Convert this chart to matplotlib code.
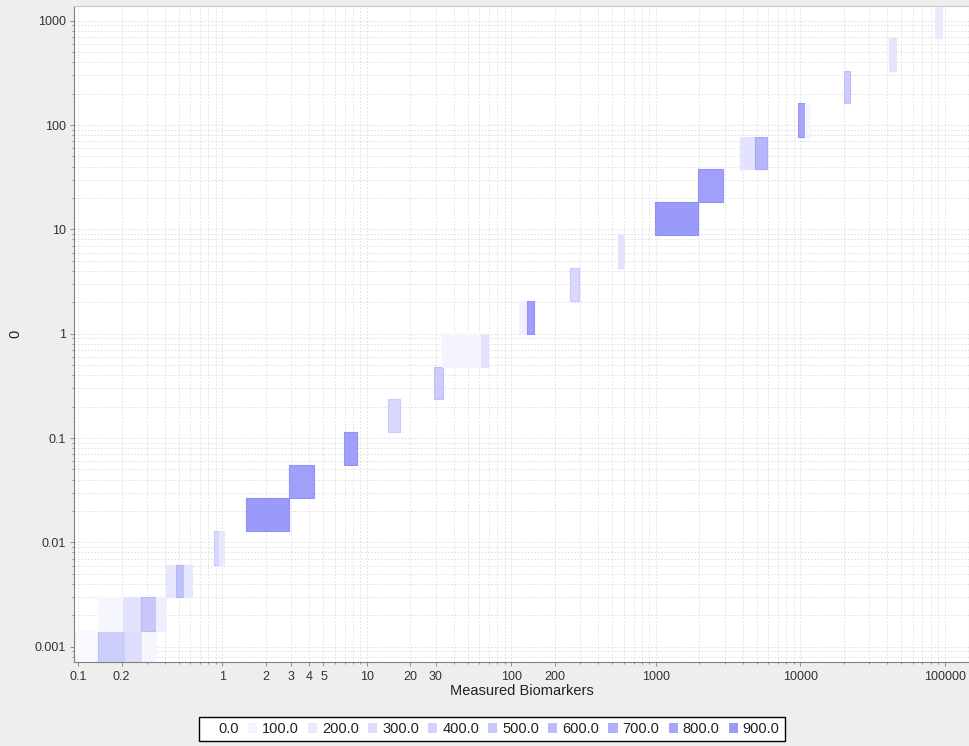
import numpy as np
import matplotlib
matplotlib.use("Agg")
import matplotlib.pyplot as plt
from matplotlib.patches import Patch

plt.rcParams['font.family'] = ['Liberation Sans', 'DejaVu Sans']

# row edges on the y axis (each row roughly doubles)
row_edges = [0.00071, 0.00142, 0.0030, 0.0061, 0.0129, 0.0268, 0.0556, 0.115,
             0.239, 0.484, 1.0, 2.08, 4.3, 8.9, 18.5, 38.3, 77.6, 164, 333,
             690, 1430]

# blocks: row index, x start, x end, value
block_row = [0, 0, 0, 0,
             1, 1, 1, 1,
             2, 2, 2,
             3, 3,
             4, 5, 6, 7, 8,
             9, 9,
             10, 10,
             11, 12, 13, 14,
             15, 15,
             16, 16,
             17, 18, 19]
block_x0 = [0.09, 0.137, 0.207, 0.276,
            0.137, 0.204, 0.272, 0.345,
            0.405, 0.475, 0.542,
            0.875, 0.943,
            1.466, 2.864, 6.92, 13.95, 29.2,
            33.0, 61.5,
            113, 128,
            254, 543, 986, 1948,
            3842, 4853,
            9594, 10777,
            20170, 41330, 85700]
block_x1 = [0.137, 0.207, 0.276, 0.345,
            0.204, 0.272, 0.345, 0.405,
            0.475, 0.542, 0.611,
            0.943, 1.026,
            2.864, 4.27, 8.51, 16.9, 33.7,
            61.5, 69.1,
            128, 144,
            293, 598, 1948, 2917,
            4853, 5848,
            10777, 11670,
            22090, 45990, 95300]
block_value = [60, 450, 300, 80,
               80, 250, 500, 150,
               220, 550, 220,
               350, 200,
               900, 850, 850, 350, 450,
               100, 250,
               120, 850,
               350, 250, 900, 850,
               250, 650,
               800, 80,
               450, 250, 180]

legend_values = [0.0, 100.0, 200.0, 300.0, 400.0, 500.0, 600.0, 700.0, 800.0, 900.0]

x_major = [0.1, 0.2, 1, 2, 3, 4, 5, 10, 20, 30, 100, 200, 1000, 10000, 100000]
x_major_labels = ['0.1', '0.2', '1', '2', '3', '4', '5', '10', '20', '30',
                  '100', '200', '1000', '10000', '100000']
y_major = [0.001, 0.01, 0.1, 1, 10, 100, 1000]
y_major_labels = ['0.001', '0.01', '0.1', '1', '10', '100', '1000']


def paint(v):
    """White-to-blue lookup paint scale"""
    a = 0.44 * min(v, 1000) / 1000.0
    c = 1 - a
    return (c, c, 1 - 0.025 * v / 1000.0)


fig = plt.figure(figsize=(9.69, 7.46), dpi=100)
fig.patch.set_facecolor('#eeeeee')
ax = fig.add_axes([74 / 969, 1 - 661.7 / 746, 895 / 969, 655.7 / 746])
ax.set_facecolor('white')
ax.set_xscale('log')
ax.set_yscale('log')

bottoms = [row_edges[r] for r in block_row]
heights = [row_edges[r + 1] - row_edges[r] for r in block_row]
widths = [b - a for a, b in zip(block_x0, block_x1)]
faces = [paint(v) for v in block_value]
# darker outline only shows up on the stronger cells
edges = [paint(v + 120) if v >= 300 else paint(v) for v in block_value]
ax.bar(block_x0, heights, width=widths, bottom=bottoms, align='edge',
       color=faces, edgecolor=edges, linewidth=0.8, zorder=2)

# tick positions
x_minor = [m * 10.0 ** k for k in range(-2, 6) for m in range(1, 10)]
x_minor = [t for t in x_minor if not any(np.isclose(t, x_major))]
y_minor = [m * 10.0 ** k for k in range(-4, 4) for m in range(2, 10)]
ax.set_xticks(x_major, x_major_labels)
ax.set_xticks(x_minor, minor=True)
ax.set_yticks(y_major, y_major_labels)
ax.set_yticks(y_minor, minor=True)
ax.xaxis.set_minor_formatter(plt.NullFormatter())
ax.yaxis.set_minor_formatter(plt.NullFormatter())
ax.set_xlim(0.0938, 147000)
ax.set_ylim(0.000718, 1384)

ax.tick_params(axis='both', which='major', length=3, width=0.6, color='#808080',
               labelsize=9, labelcolor='#333333', pad=2.5)
ax.tick_params(axis='x', which='major', pad=3.5)
ax.tick_params(axis='both', which='minor', length=1.6, width=0.6, color='#808080')

ax.grid(True, which='both', color='#dcdcdc', linestyle=(0, (2, 2)), linewidth=0.6,
        zorder=0)
ax.set_axisbelow(True)

for side in ('left', 'bottom'):
    ax.spines[side].set_color('#808080')
    ax.spines[side].set_linewidth(0.8)
for side in ('top', 'right'):
    ax.spines[side].set_color('#c8c8c8')
    ax.spines[side].set_linewidth(0.8)

ax.set_xlabel('Measured Biomarkers', fontsize=10.5, color='#222222')
ax.xaxis.set_label_coords(0.5, -0.034)
ax.set_ylabel('0', fontsize=10.5, color='#222222', rotation=90, va='center')
ax.yaxis.set_label_coords(-0.065, 0.5)

handles = [Patch(facecolor=paint(v), edgecolor='none') for v in legend_values]
labels = ['%.1f' % v for v in legend_values]
leg = fig.legend(handles, labels, loc='center', bbox_to_anchor=(492 / 969, 1 - 729 / 746),
                 ncol=10, fontsize=10.5, frameon=True, fancybox=False,
                 edgecolor='black', facecolor='white', framealpha=1,
                 handlelength=0.62, handleheight=0.62, handletextpad=0.35,
                 columnspacing=0.62, borderpad=0.35, borderaxespad=0)
leg.get_frame().set_linewidth(1.0)
for t in leg.get_texts():
    t.set_color('#222222')

fig.savefig('out.png', dpi=100, facecolor=fig.get_facecolor())
